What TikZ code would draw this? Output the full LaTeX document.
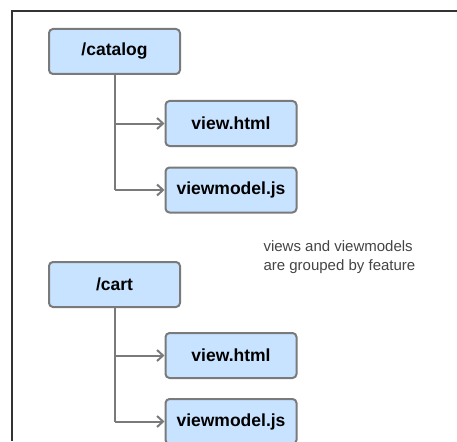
\documentclass[tikz,border=0pt]{standalone}
\usepackage{fontspec}
\setmainfont{Liberation Sans}
\usetikzlibrary{positioning, arrows.meta, calc}
\definecolor{boxfill}{HTML}{C7E3FF}
\definecolor{boxline}{HTML}{7A7A7A}
\definecolor{notegray}{HTML}{444444}
\tikzset{
  filebox/.style={
    draw=boxline,
    fill=boxfill,
    line width=2pt,
    rounded corners=4pt,
    minimum width=131pt,
    minimum height=45pt,
    align=center,
    font=\fontsize{17.5}{20}\selectfont\bfseries,
  },
  treeline/.style={line width=2pt, draw=boxline},
  treearr/.style={treeline, -{Straight Barb[length=6pt, width=11pt, line width=2pt]}},
  notetext/.style={align=left, text=notegray, font=\fontsize{15}{19}\selectfont},
}

\begin{document}
\begin{tikzpicture}[x=1pt, y=-1pt]
  \useasboundingbox (0,0) rectangle (457,441);
  % frame
  \draw[line width=1.6pt, draw=black!80] (457,11) -- (12,11) -- (12,441);

  % --- catalog feature ---
  \node[filebox] (catalog) at (114.5,51.5) {/catalog};
  \node[filebox, below=25pt of catalog, xshift=116.5pt] (catView) {view.html};
  \node[filebox, below=19.5pt of catView] (catVm) {viewmodel.js};

  % --- cart feature ---
  \node[filebox] (cart) at (114.5,284.5) {/cart};
  \node[filebox, below=24pt of cart, xshift=116.5pt] (cartView) {view.html};
  \node[filebox, below=19pt of cartView] (cartVm) {viewmodel.js};

  \node[notetext, anchor=west] (note) at (260,257)
    {views and viewmodels\\are grouped by feature};

  % --- arrows ---
  \draw[treeline] (catalog.south) -- (catalog.south |- catVm.west);
  \draw[treearr] (catalog.south |- catView.west) -- (catView.west);
  \draw[treearr] (catalog.south |- catVm.west) -- (catVm.west);

  \draw[treeline] (cart.south) -- (cart.south |- cartVm.west);
  \draw[treearr] (cart.south |- cartView.west) -- (cartView.west);
  \draw[treearr] (cart.south |- cartVm.west) -- (cartVm.west);
\end{tikzpicture}
\end{document}
